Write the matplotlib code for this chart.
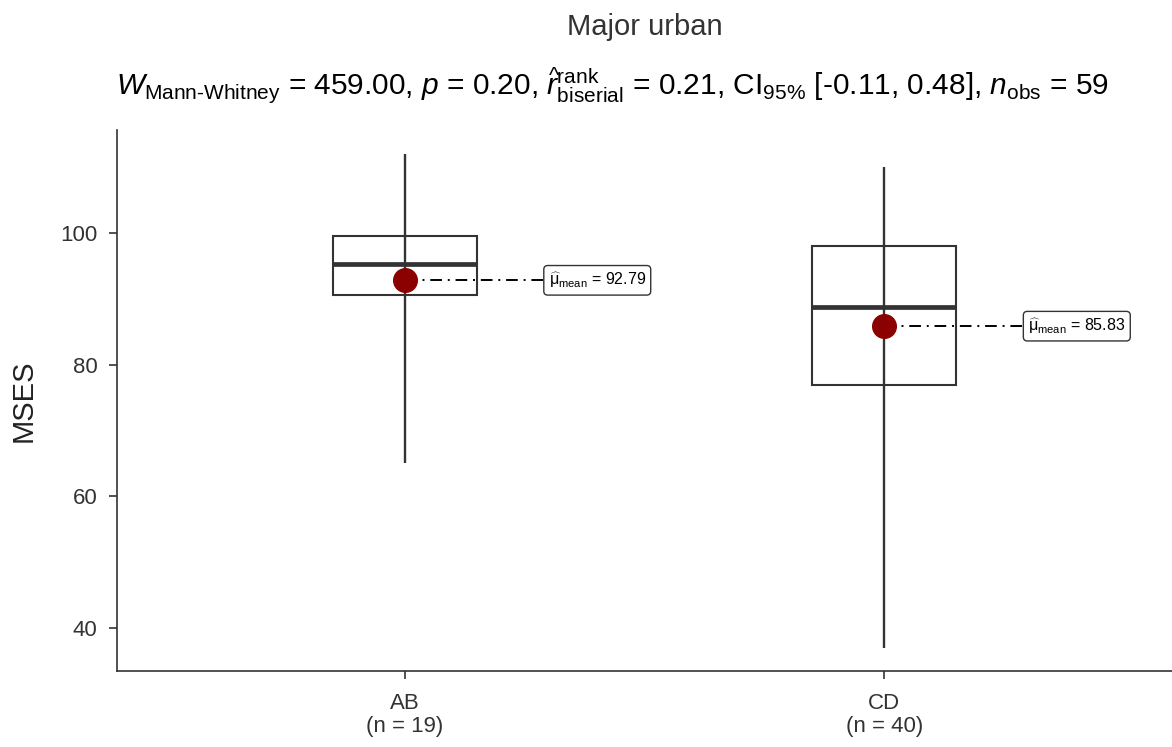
import matplotlib
matplotlib.use("Agg")
import matplotlib.pyplot as plt

plt.rcParams['font.family'] = ['Liberation Sans', 'DejaVu Sans']
plt.rcParams['mathtext.fontset'] = 'custom'
plt.rcParams['mathtext.rm'] = 'Liberation Sans'
plt.rcParams['mathtext.it'] = 'Liberation Sans:italic'
plt.rcParams['mathtext.bf'] = 'Liberation Sans:bold'

# data
groups = ['AB', 'CD']
counts = [19, 40]
medians = [95.2, 88.7]
q1 = [90.6, 76.9]
q3 = [99.5, 98.0]
whisk_lo = [65.0, 37.0]
whisk_hi = [112.0, 110.0]
means = [92.79, 85.83]

fig = plt.figure(figsize=(11.72, 7.47), dpi=100)
ax = fig.add_axes([117 / 1172, 1 - 671 / 747, 1 - 117 / 1172, (671 - 130) / 747])

dark = '#333333'
pos = [1, 2]

# whisker line runs through the (unfilled) box
ax.vlines(pos, whisk_lo, whisk_hi, color=dark, lw=1.7, zorder=2)

stats = []
for i, g in enumerate(groups):
    stats.append(dict(med=medians[i], q1=q1[i], q3=q3[i],
                      whislo=q1[i], whishi=q3[i], fliers=[], label=g))
ax.bxp(stats, positions=pos, widths=0.3, showcaps=False, showfliers=False,
       patch_artist=True,
       boxprops=dict(facecolor='none', edgecolor=dark, lw=1.5),
       medianprops=dict(color=dark, lw=3.4),
       whiskerprops=dict(color=dark, lw=1.5), zorder=3)

# mean points and labels
for x, m in zip(pos, means):
    ax.plot([x, x + 0.3], [m, m], color='black', lw=1.4,
            ls=(0, (6, 3, 1, 3)), zorder=4)
    ax.plot(x, m, 'o', color='#8B0000', ms=17, zorder=5)
    ax.text(x + 0.3, m, r'$\widehat{\mathrm{\mu}}_{\mathrm{mean}}$ = %.2f' % m,
            fontsize=11.5, va='center', ha='left', zorder=6,
            bbox=dict(boxstyle='round,pad=0.3,rounding_size=0.25',
                      fc='white', ec='#333333', lw=1.0))

ax.set_xlim(0.4, 2.6)
ax.set_ylim(33.5, 115.6)
ax.set_yticks([40, 60, 80, 100])
ax.set_xticks(pos)
ax.set_xticklabels(['%s\n(n = %d)' % (g, n) for g, n in zip(groups, counts)],
                   fontsize=16, color='#333333', linespacing=1.1)
ax.tick_params(axis='y', labelsize=16, labelcolor='#333333', length=6,
               width=1.2, color='#333333', pad=8)
ax.tick_params(axis='x', length=6, width=1.2, color='#333333', pad=10)
ax.set_ylabel('MSES', fontsize=21, color='#222222', labelpad=16)

for s in ['top', 'right']:
    ax.spines[s].set_visible(False)
for s in ['left', 'bottom']:
    ax.spines[s].set_linewidth(1.2)
    ax.spines[s].set_color('#333333')

fig.text(0.55, 1 - 27 / 747, 'Major urban', fontsize=21, ha='center',
         va='center', color='#333333')
subtitle = (r'$W_{\mathrm{Mann\text{-}Whitney}}$ = 459.00, $p$ = 0.20, '
            r'$\widehat{r}_{\mathrm{biserial}}^{\mathrm{rank}}$ = 0.21, '
            r'CI$_{95\%}$ [-0.11, 0.48], $n_{\mathrm{obs}}$ = 59')
fig.text(0.522, 1 - 86 / 747, subtitle, fontsize=21.5, ha='center',
         va='center', color='black')

fig.savefig('out.png', dpi=100)
